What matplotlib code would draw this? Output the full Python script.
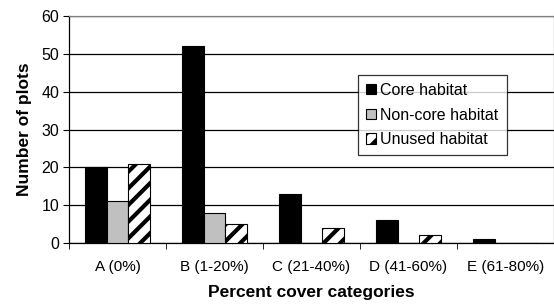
import numpy as np
import matplotlib
matplotlib.use("Agg")
import matplotlib.pyplot as plt

plt.rcParams['font.family'] = ['Liberation Sans', 'DejaVu Sans']
plt.rcParams['hatch.linewidth'] = 3.0

categories = ['A (0%)', 'B (1-20%)', 'C (21-40%)', 'D (41-60%)', 'E (61-80%)']
core = [20, 52, 13, 6, 1]
noncore = [11, 8, 0, 0, 0]
unused = [21, 5, 4, 2, 0]

fig = plt.figure(figsize=(5.54, 3.06), dpi=100)
ax = fig.add_axes([69 / 554, 1 - 243 / 306, 485 / 554, 227 / 306])

x = np.arange(len(categories))
w = 1 / 4.5

ax.bar(x - w, core, w, color='black', edgecolor='black', linewidth=0.8,
       label='Core habitat', zorder=3)
ax.bar(x, noncore, w, color='#c0c0c0', edgecolor='black', linewidth=0.8,
       label='Non-core habitat', zorder=3)
ax.bar(x + w, unused, w, color='white', edgecolor='black', linewidth=0.8,
       hatch='//', label='Unused habitat', zorder=3)

ax.set_xlim(-0.5, len(categories) - 0.5)
ax.set_ylim(0, 60)
ax.set_yticks(range(0, 61, 10))
ax.yaxis.grid(True, color='black', linewidth=0.9, zorder=0)
ax.set_axisbelow(True)

ax.set_xticks(x)
ax.set_xticklabels(categories, fontsize=11)
ax.set_xticks(np.arange(len(categories) + 1) - 0.5, minor=True)
ax.tick_params(axis='x', which='major', length=0, pad=12.5)
ax.tick_params(axis='x', which='minor', length=4, direction='out', color='black')
ax.tick_params(axis='y', length=4, direction='out', labelsize=11.5, pad=3)

for s in ['top', 'right']:
    ax.spines[s].set_color('#808080')
    ax.spines[s].set_linewidth(0.9)
ax.spines['left'].set_linewidth(0.9)
ax.spines['bottom'].set_linewidth(0.9)

ax.set_ylabel('Number of plots', fontsize=12.5, fontweight='bold', labelpad=7)
ax.set_xlabel('Percent cover categories', fontsize=12.5, fontweight='bold', labelpad=8)

leg = ax.legend(loc='upper left', bbox_to_anchor=((358 - 69) / 485, (243 - 75) / 227),
                fontsize=11.5, frameon=True, fancybox=False, edgecolor='black',
                handlelength=0.6, handleheight=0.6, handletextpad=0.3,
                labelspacing=0.6, borderpad=0.5, borderaxespad=0)
leg.get_frame().set_linewidth(0.9)
leg.set_zorder(5)

fig.savefig('out.png', dpi=100)
